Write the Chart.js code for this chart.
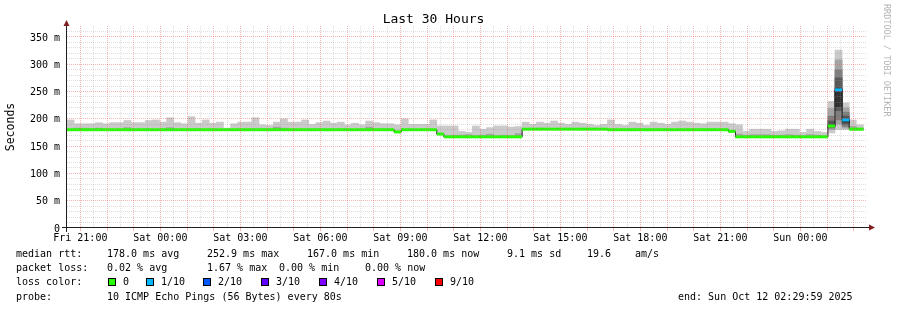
<!DOCTYPE html>
<html><head><meta charset="utf-8">
<script src="https://cdn.jsdelivr.net/npm/chart.js@4.4.1/dist/chart.umd.min.js"></script>
<style>
html,body{margin:0;padding:0;background:#fff;}
#wrap{position:relative;width:897px;height:310px;overflow:hidden;font-family:'DejaVu Sans Mono',monospace;background:#fff;}
#c{position:absolute;left:0;top:0;}
.lg{position:absolute;font-size:10px;line-height:12px;white-space:pre;color:#000;}
.box{position:absolute;width:6px;height:6px;border:1px solid #000;}
#wm{position:absolute;left:882px;top:4px;font-size:8.5px;line-height:10px;color:#b4b4b4;writing-mode:vertical-rl;white-space:pre;}
</style></head>
<body>
<div id="wrap">
<canvas id="c" width="897" height="310"></canvas>
<div id="wm">RRDTOOL / TOBI OETIKER</div>
<div class="lg" style="left:16px;top:247.5px">median rtt:</div>
<div class="lg" style="left:107px;top:247.5px">178.0 ms avg</div>
<div class="lg" style="left:207px;top:247.5px">252.9 ms max</div>
<div class="lg" style="left:307px;top:247.5px">167.0 ms min</div>
<div class="lg" style="left:407px;top:247.5px">180.0 ms now</div>
<div class="lg" style="left:507px;top:247.5px">9.1 ms sd</div>
<div class="lg" style="left:587px;top:247.5px">19.6</div>
<div class="lg" style="left:635px;top:247.5px">am/s</div>
<div class="lg" style="left:16px;top:262px">packet loss:</div>
<div class="lg" style="left:107px;top:262px">0.02 % avg</div>
<div class="lg" style="left:207px;top:262px">1.67 % max</div>
<div class="lg" style="left:279px;top:262px">0.00 % min</div>
<div class="lg" style="left:365px;top:262px">0.00 % now</div>
<div class="lg" style="left:16px;top:275.5px">loss color:</div>
<div id="lossLegend"></div>
<div class="lg" style="left:16px;top:290.5px">probe:</div>
<div class="lg" style="left:107px;top:290.5px">10 ICMP Echo Pings (56 Bytes) every 80s</div>
<div class="lg" style="left:678px;top:290.5px">end: Sun Oct 12 02:29:59 2025</div>
</div>
<script>
// ---------------- data ----------------
const binMinutes = 16;            // consolidation step of each smoke column
const spanMinutes = 1800;         // 30 hours, Fri 20:30 .. Sun 02:30
const tickLabels = ["Fri 21:00","Sat 00:00","Sat 03:00","Sat 06:00","Sat 09:00","Sat 12:00","Sat 15:00","Sat 18:00","Sat 21:00","Sun 00:00"];
const yTickValues = [0,50,100,150,200,250,300,350];
const yTickLabels = ["0","50 m","100 m","150 m","200 m","250 m","300 m","350 m"];
const lossLevels = [0,1,2,3,4,5,9];
const lossLabels = ["0","1/10","2/10","3/10","4/10","5/10","9/10"];
const lossColors = ["#26ff00","#00b8ff","#0059ff","#5e00ff","#7e00ff","#dd00ff","#ff0000"];

// median rtt per 16-minute column (ms)
const medianRtt = [
180,180,180,180,180,180,180,180,180,180,
180,180,180,180,180,180,180,180,180,180,
180,180,180,180,180,180,180,180,180,180,
180,180,180,180,180,180,180,180,180,180,
180,180,180,180,180,180,176,180,180,180,
180,180,172,167,167,167,167,167,167,167,
167,167,167,167,181,181,181,181,181,181,
181,181,181,181,181,181,180,180,180,180,
180,180,180,180,180,180,180,180,180,180,
180,180,180,177,167,167,167,167,167,167,
167,167,167,167,167,167,167,187,253,198,
181,181];
// packet loss per column (tenths)
const lossTenths = [
0,0,0,0,0,0,0,0,0,0, 0,0,0,0,0,0,0,0,0,0,
0,0,0,0,0,0,0,0,0,0, 0,0,0,0,0,0,0,0,0,0,
0,0,0,0,0,0,0,0,0,0, 0,0,0,0,0,0,0,0,0,0,
0,0,0,0,0,0,0,0,0,0, 0,0,0,0,0,0,0,0,0,0,
0,0,0,0,0,0,0,0,0,0, 0,0,0,0,0,0,0,0,0,0,
0,0,0,0,0,0,0,0,1,1, 0,0];
// smoke: fastest and slowest ping of each column (ms)
const smokeMin = [
179,179,179,179,179,179,179,179,179,179,
179,179,179,179,179,179,179,179,179,179,
179,179,179,179,179,179,179,179,179,179,
179,179,179,179,179,179,179,179,179,179,
179,179,179,179,179,179,175,179,179,179,
179,179,171,166,166,166,166,166,166,166,
166,166,166,166,180,180,180,180,180,180,
180,180,180,180,180,180,179,179,179,179,
179,179,179,179,179,179,179,179,179,179,
179,179,179,176,166,166,166,166,166,166,
166,166,166,166,166,166,166,174,180,180,
179,179];
const smokeMax = [
198,191,191,191,193,191,193,193,197,193,
193,197,198,194,202,193,191,204,192,198,
192,194,183,191,194,194,202,189,188,194,
200,194,194,198,190,193,196,192,194,189,
192,189,196,193,191,191,189,200,190,190,
190,198,187,187,187,177,175,187,181,184,
187,187,185,186,194,190,194,192,196,192,
190,194,192,190,188,190,198,190,188,194,
192,188,194,192,190,194,196,194,192,191,
194,194,194,191,189,177,181,181,181,177,
178,181,181,175,181,177,175,232,326,229,
198,189];
// second and ninth ping of each column (ms)
const smokeP2 = [
180,180,180,180,180,180,180,180,180,180,
180,180,180,180,180,180,180,180,180,180,
180,180,180,180,180,180,180,180,180,180,
180,180,180,180,180,180,180,180,180,180,
180,180,180,180,180,180,176,180,180,180,
180,180,172,167,167,167,167,167,167,167,
167,167,167,167,181,181,181,181,181,181,
181,181,181,181,181,181,180,180,180,180,
180,180,180,180,180,180,180,180,180,180,
180,180,180,177,167,167,167,167,167,167,
167,167,167,167,167,167,167,180,190,183,
180,180];
const smokeP9 = [
181,183,183,182,183,181,181,181,184,181,
181,181,181,181,184,181,181,181,181,181,
181,181,181,181,181,181,181,181,181,185,
183,181,181,181,181,181,181,181,181,181,
181,181,185,181,181,181,177,181,181,181,
181,181,173,169,170,170,171,169,170,172,
169,170,169,173,182,182,183,182,182,182,
182,182,182,182,182,182,181,181,181,181,
181,181,181,181,181,181,181,181,181,181,
181,181,181,178,172,170,171,171,171,170,
170,171,170,169,171,170,169,219,308,220,
186,183];
// inner pings of the spike columns (first column index below)
const spikeStart = 107;
const spikeP3 = [183,198,186];
const spikeP8 = [205,290,212];
const spikeP4 = [185,215,190];
const spikeP7 = [196,275,205];
const spikeP5 = [186,222,194];
const spikeP6 = [190,256,200];

// ---------------- build ----------------
Chart.defaults.font.family = "'DejaVu Sans Mono', monospace";
Chart.defaults.color = '#000';

function lossColor(l){ let c = lossColors[0]; lossLevels.forEach((lv,k)=>{ if (l >= lv) c = lossColors[k]; }); return c; }
const colCenter = i => i*binMinutes + binMinutes/2;
function band(lo, hi, first){ return lo.map((v,k)=>({x: colCenter(k+first), y:[v, hi[k]]})); }

const medianPts = [];
medianRtt.forEach((v,i)=>{ medianPts.push({x:i*binMinutes, y:v}); medianPts.push({x:(i+1)*binMinutes, y:v}); });
const stepPts = medianRtt.map((v,i)=>({x:i*binMinutes, y:v}));
stepPts.push({x: medianRtt.length*binMinutes, y: medianRtt[medianRtt.length-1]});

const hourTicks = []; for (let m = 30; m < spanMinutes; m += 60) hourTicks.push(m);
const halfHourTicks = []; for (let m = 60; m < spanMinutes; m += 60) halfHourTicks.push(m);
const minorY = []; for (let v = 10; v <= 360; v += 10) if (v % 50) minorY.push(v);

// loss legend
const ll = document.getElementById('lossLegend');
const boxX = [108,146,203,261,319,377,435];
lossLabels.forEach((t,k)=>{
  const b = document.createElement('div'); b.className='box';
  b.style.left = boxX[k]+'px'; b.style.top='278px'; b.style.background = lossColors[k];
  ll.appendChild(b);
  const s = document.createElement('div'); s.className='lg'; s.textContent = t;
  s.style.left = (boxX[k]+15)+'px'; s.style.top='275.5px';
  ll.appendChild(s);
});

const barCommon = {type:'bar', grouped:false, barPercentage:1, categoryPercentage:1, borderWidth:0, inflateAmount:0.3};
const MGRID = 'rgba(235,90,90,0.45)';
const GRID = 'rgba(150,150,150,0.32)';

const axisPlugin = {
  id:'rrdaxes',
  afterDraw(chart){
    const {ctx, chartArea:a} = chart;
    ctx.save();
    ctx.strokeStyle = '#1f1f1f'; ctx.lineWidth = 1;
    ctx.beginPath(); ctx.moveTo(a.left-5, a.bottom-0.5); ctx.lineTo(a.right+3, a.bottom-0.5); ctx.stroke();
    ctx.beginPath(); ctx.moveTo(a.left-0.5, a.bottom+4); ctx.lineTo(a.left-0.5, a.top-1); ctx.stroke();
    ctx.fillStyle = '#801f1f';
    ctx.beginPath(); ctx.moveTo(a.left-0.5, a.top-6); ctx.lineTo(a.left-3.5, a.top); ctx.lineTo(a.left+2.5, a.top); ctx.closePath(); ctx.fill();
    ctx.beginPath(); ctx.moveTo(a.right+8, a.bottom-0.5); ctx.lineTo(a.right+2, a.bottom-3.5); ctx.lineTo(a.right+2, a.bottom+2.5); ctx.closePath(); ctx.fill();
    ctx.restore();
  }
};

new Chart(document.getElementById('c'), {
  type:'bar',
  data:{ datasets:[
    {type:'line', data:medianPts, borderWidth:3, borderColor:lossColors[0], borderCapStyle:'butt',
     segment:{borderColor: c => (c.p0DataIndex % 2 === 0) ? lossColor(lossTenths[c.p0DataIndex/2]) : 'rgba(0,0,0,0)'},
     pointRadius:0, tension:0, order:0},
    {type:'line', data:stepPts, stepped:true, borderWidth:1, borderColor:'#202020', pointRadius:0, order:1},
    {...barCommon, data:band(spikeP5, spikeP6, spikeStart), backgroundColor:'#323232', order:2},
    {...barCommon, data:band(spikeP4, spikeP7, spikeStart), backgroundColor:'#585858', order:3},
    {...barCommon, data:band(spikeP3, spikeP8, spikeStart), backgroundColor:'#7e7e7e', order:4},
    {...barCommon, data:band(smokeP2, smokeP9, 0), backgroundColor:'#a4a4a4', order:5},
    {...barCommon, data:band(smokeMin, smokeMax, 0), backgroundColor:'#cacaca', order:6}
  ]},
  options:{
    responsive:false, animation:false, devicePixelRatio:1,
    layout:{padding:{left:0, right:30, top:0, bottom:62}},
    plugins:{
      legend:{display:false}, tooltip:{enabled:false},
      title:{display:true, text:'Last 30 Hours', font:{size:13, weight:'normal', lineHeight:1}, color:'#000', padding:{top:13, bottom:0}}
    },
    scales:{
      x:{type:'linear', position:'bottom', min:0, max:spanMinutes, offset:false,
         afterBuildTicks: s => { s.ticks = hourTicks.map(v=>({value:v})); },
         afterFit: s => { s.height = 20; },
         ticks:{autoSkip:false, maxRotation:0, minRotation:0, padding:1.5, font:{size:10},
                callback:(v)=>{ const k = hourTicks.indexOf(v); return (k % 3 === 0) ? tickLabels[k/3] : ''; }},
         grid:{offset:false, z:1, color:MGRID, lineWidth:1, drawTicks:true, tickLength:3, tickColor:MGRID},
         border:{display:false, dash:[1,1]}},
      xm:{type:'linear', position:'bottom', min:0, max:spanMinutes, offset:false,
         afterBuildTicks: s => { s.ticks = halfHourTicks.map(v=>({value:v})); },
         afterFit: s => { s.height = 0; },
         ticks:{display:false},
         grid:{offset:false, z:1, color:GRID, lineWidth:1, drawTicks:false},
         border:{display:false, dash:[1,1]}},
      y:{type:'linear', position:'left', min:0, max:370,
         afterBuildTicks: s => { s.ticks = yTickValues.map(v=>({value:v})); },
         afterFit: s => { s.width = 67; },
         ticks:{padding:7, labelOffset:1, font:{size:10}, callback:(v)=> yTickLabels[yTickValues.indexOf(v)]},
         title:{display:true, text:'Seconds', font:{size:11.5}, padding:{top:4, bottom:0}, color:'#000'},
         grid:{z:1, color: c => c.tick && c.tick.value === 0 ? 'rgba(0,0,0,0)' : MGRID, lineWidth:1, drawTicks:false},
         border:{display:false, dash:[1,1]}},
      ym:{type:'linear', position:'left', min:0, max:370,
         afterBuildTicks: s => { s.ticks = minorY.map(v=>({value:v})); },
         afterFit: s => { s.width = 0; },
         ticks:{display:false},
         grid:{z:1, color:GRID, lineWidth:1, drawTicks:false},
         border:{display:false, dash:[1,1]}}
    }
  },
  plugins:[axisPlugin]
});
</script>
</body></html>
